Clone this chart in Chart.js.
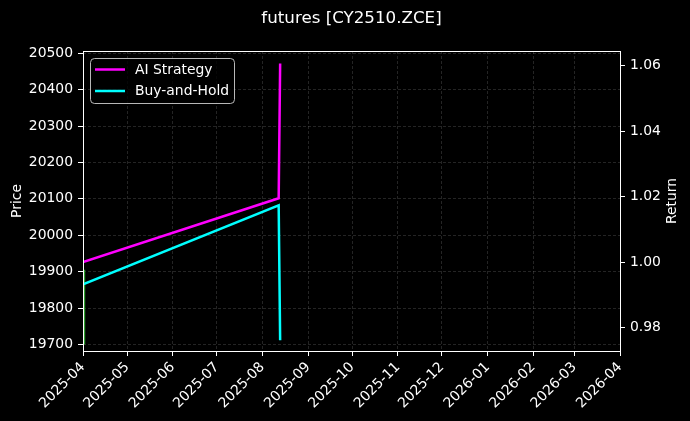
<!DOCTYPE html>
<html>
<head>
<meta charset="utf-8">
<script src="https://cdn.jsdelivr.net/npm/chart.js@4.4.1/dist/chart.umd.min.js"></script>
<style>
  html, body { margin: 0; padding: 0; background: #000; }
  canvas { display: block; }
</style>
</head>
<body>
<canvas id="c" width="690" height="421"></canvas>
<script>
// data
const dates = ['2025-04-01', '2025-08-12', '2025-08-13'];
const aiStrategy = [1.000, 1.0195, 1.0607];
const buyAndHold = [0.9932, 1.0173, 0.9761];
const priceDates = ['2025-04-02', '2025-04-02'];
const price = [19905, 19700];
const monthTicks = ['2025-04', '2025-05', '2025-06', '2025-07', '2025-08', '2025-09', '2025-10',
  '2025-11', '2025-12', '2026-01', '2026-02', '2026-03', '2026-04'];
const priceTicks = [19700, 19800, 19900, 20000, 20100, 20200, 20300, 20400, 20500];
const returnTicks = [0.98, 1.00, 1.02, 1.04, 1.06];

const t0 = Date.UTC(2025, 3, 1);
const toDay = s => {
  const p = s.split('-').map(Number);
  return (Date.UTC(p[0], p[1] - 1, p[2] || 1) - t0) / 86400000;
};
const monthDays = monthTicks.map(toDay);

const FONT = 'DejaVu Sans';
const gridStyle = 'rgba(128,128,128,0.4)';

// frame round the plot, titles, legend box inside the plot
const frameAndLegend = {
  id: 'frameAndLegend',
  afterDraw(chart) {
    const { ctx, chartArea: a } = chart;
    ctx.save();
    ctx.strokeStyle = '#fff';
    ctx.lineWidth = 1;
    ctx.strokeRect(a.left + 0.5, a.top + 0.5, a.right - a.left, a.bottom - a.top);

    ctx.fillStyle = '#fff';
    ctx.textAlign = 'center';
    ctx.textBaseline = 'middle';
    ctx.font = '16.7px "' + FONT + '"';
    ctx.fillText('futures [CY2510.ZCE]', (a.left + a.right) / 2, 19);

    ctx.font = '13.9px "' + FONT + '"';
    ctx.save();
    ctx.translate(672, (a.top + a.bottom) / 2);
    ctx.rotate(-Math.PI / 2);
    ctx.fillText('Return', 0, 0);
    ctx.restore();

    const x = a.left + 7, y = a.top + 7, w = 144, h = 45;
    ctx.beginPath();
    ctx.roundRect(x + 0.5, y + 0.5, w, h, 4);
    ctx.fillStyle = 'rgba(0,0,0,0.8)';
    ctx.fill();
    ctx.strokeStyle = 'rgba(204,204,204,0.9)';
    ctx.stroke();

    const items = [['AI Strategy', '#ff00ff'], ['Buy-and-Hold', '#00ffff']];
    ctx.textAlign = 'left';
    items.forEach((it, i) => {
      const ly = y + 11.5 + i * 21.5;
      ctx.strokeStyle = it[1];
      ctx.lineWidth = 2.5;
      ctx.beginPath();
      ctx.moveTo(x + 5, ly);
      ctx.lineTo(x + 35, ly);
      ctx.stroke();
      ctx.fillStyle = '#fff';
      ctx.fillText(it[0], x + 45, ly + 0.5);
    });
    ctx.restore();
  }
};

new Chart(document.getElementById('c'), {
  type: 'line',
  data: {
    datasets: [
      {
        label: 'AI Strategy',
        data: dates.map((d, i) => ({ x: toDay(d), y: aiStrategy[i] })),
        borderColor: '#ff00ff',
        borderWidth: 2.5,
        yAxisID: 'yReturn'
      },
      {
        label: 'Buy-and-Hold',
        data: dates.map((d, i) => ({ x: toDay(d), y: buyAndHold[i] })),
        borderColor: '#00ffff',
        borderWidth: 2.5,
        yAxisID: 'yReturn'
      },
      {
        label: 'Price',
        data: priceDates.map((d, i) => ({ x: toDay(d), y: price[i] })),
        borderColor: '#2ca02c',
        borderWidth: 1.5,
        yAxisID: 'yPrice'
      }
    ]
  },
  options: {
    responsive: false,
    animation: false,
    layout: { padding: { top: 51 } },
    elements: { point: { radius: 0 }, line: { tension: 0 } },
    plugins: {
      legend: { display: false },
      tooltip: { enabled: false },
      title: { display: false }
    },
    scales: {
      x: {
        type: 'linear',
        min: 0,
        max: toDay('2026-04-01'),
        afterBuildTicks: s => { s.ticks = monthDays.map(v => ({ value: v })); },
        afterFit: s => { s.height = 70; },
        ticks: {
          autoSkip: false,
          minRotation: 45,
          maxRotation: 45,
          padding: 3,
          color: '#fff',
          font: { family: FONT, size: 13.9 },
          callback: (v, i) => monthTicks[i]
        },
        grid: { color: gridStyle, lineWidth: 0.7, tickColor: '#fff', tickLength: 5, tickWidth: 1 },
        border: { display: false, dash: [3, 2] }
      },
      yPrice: {
        position: 'left',
        min: 19682,
        max: 20506,
        afterBuildTicks: s => { s.ticks = priceTicks.map(v => ({ value: v })); },
        afterFit: s => { s.width = 83; },
        ticks: { color: '#fff', padding: 5, font: { family: FONT, size: 13.9 }, callback: v => String(v) },
        grid: { color: gridStyle, lineWidth: 0.7, tickColor: '#fff', tickLength: 5, tickWidth: 1 },
        border: { display: false, dash: [3, 2] },
        title: { display: true, text: 'Price', color: '#fff', font: { family: FONT, size: 13.9 }, padding: { top: 9, bottom: 0 } }
      },
      yReturn: {
        position: 'right',
        min: 0.9728,
        max: 1.0645,
        afterBuildTicks: s => { s.ticks = returnTicks.map(v => ({ value: v })); },
        afterFit: s => { s.width = 70; },
        ticks: { color: '#fff', padding: 5, font: { family: FONT, size: 13.9 }, callback: v => v.toFixed(2) },
        grid: { drawOnChartArea: false, tickColor: '#fff', tickLength: 5, tickWidth: 1 },
        border: { display: false }
      }
    }
  },
  plugins: [frameAndLegend]
});
</script>
</body>
</html>
